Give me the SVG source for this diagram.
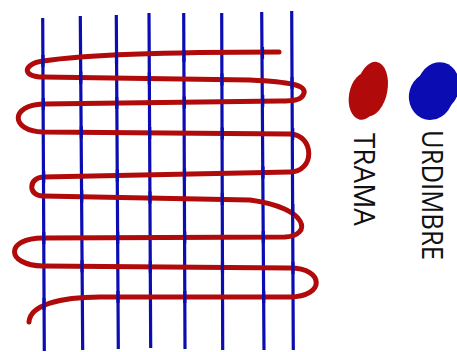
<svg xmlns="http://www.w3.org/2000/svg" width="457" height="352" viewBox="0 0 457 352">
<style>
.warp{stroke:#0b0cb2;stroke-width:3.2;fill:none;stroke-linecap:butt}
.weft{stroke:#b00a0a;stroke-width:5;fill:none;stroke-linecap:round;stroke-linejoin:round}
.lbl{font-family:"Open Sans","Liberation Sans",sans-serif;font-size:30px;fill:#111}
</style>
<rect width="457" height="352" fill="#fff"/>
<g id="urdimbre-hilos">
<path class="warp" d="M42.7,18 L44.3,351 M80.3,16 L82.7,350 M116.3,15 L118.3,349 M149,13 L150.7,348 M183.7,13 L185,349 M221.7,13 L222.7,350 M261.7,12 L264,350 M291.7,11 L293.3,350"/>
</g>
<g id="trama-hilo">
<path class="weft" d="M279,52 C200,52 90,54 43,61 C22,64 22,77 43,77 L250,80 C290,82 306,85 304,93 C302,100 295,101 280,101 L43,104 C10,105 10,131 43,132 L290,134 C315,135 315,172 290,172 L43,177 C28,178 28,196 43,196 L250,200 C310,208 312,236 285,237 L43,238 C5,238 5,265 43,266 L290,268 C325,268 325,297 290,297 L100,297 C60,297 30,305 29,322"/>
</g>
<g id="cruces">
<path class="warp" d="M43,55 v12 M116.5,52 v12 M184,50 v12 M262.5,47 v12 M80.8,71.5 v12 M149.3,72.5 v12 M222,73.5 v12 M292,77 v12 M43.3,98 v12 M116.8,97 v12 M184.3,96.5 v12 M262.7,95 v12 M81.3,126.3 v12 M149.7,127 v12 M222.3,127.5 v12 M292.7,128 v12 M43.7,171 v12 M117.3,169.5 v12 M184.5,168.5 v12 M263,166.5 v12 M81.7,190.5 v12 M150,191.5 v12 M222.3,193 v12 M292.8,204 v12 M43.8,232 v12 M117.7,231.7 v12 M184.7,231.5 v12 M263.3,231 v12 M82,260.3 v12 M150.3,260.7 v12 M222.5,261.3 v12 M293,262 v12 M44,298 v12 M118,291 v12 M184.8,291 v12 M263.7,291 v12"/>
</g>
<g id="leyenda-trama" fill="#b00a0a">
<ellipse cx="372" cy="89" rx="15.5" ry="27.5" transform="rotate(10 372 89)"/>
<ellipse cx="364" cy="96" rx="15" ry="24" transform="rotate(10 364 96)"/>
<text class="lbl" x="354" y="133" transform="rotate(90 354 133)" textLength="93" lengthAdjust="spacingAndGlyphs">TRAMA</text>
</g>
<g id="leyenda-urdimbre" fill="#0b0cb2">
<ellipse cx="438" cy="87" rx="21" ry="25" transform="rotate(15 438 87)"/>
<ellipse cx="431" cy="96" rx="22" ry="24" transform="rotate(15 431 96)"/>
<text class="lbl" x="422" y="130" transform="rotate(90 422 130)" textLength="130" lengthAdjust="spacingAndGlyphs">URDIMBRE</text>
</g>
</svg>
